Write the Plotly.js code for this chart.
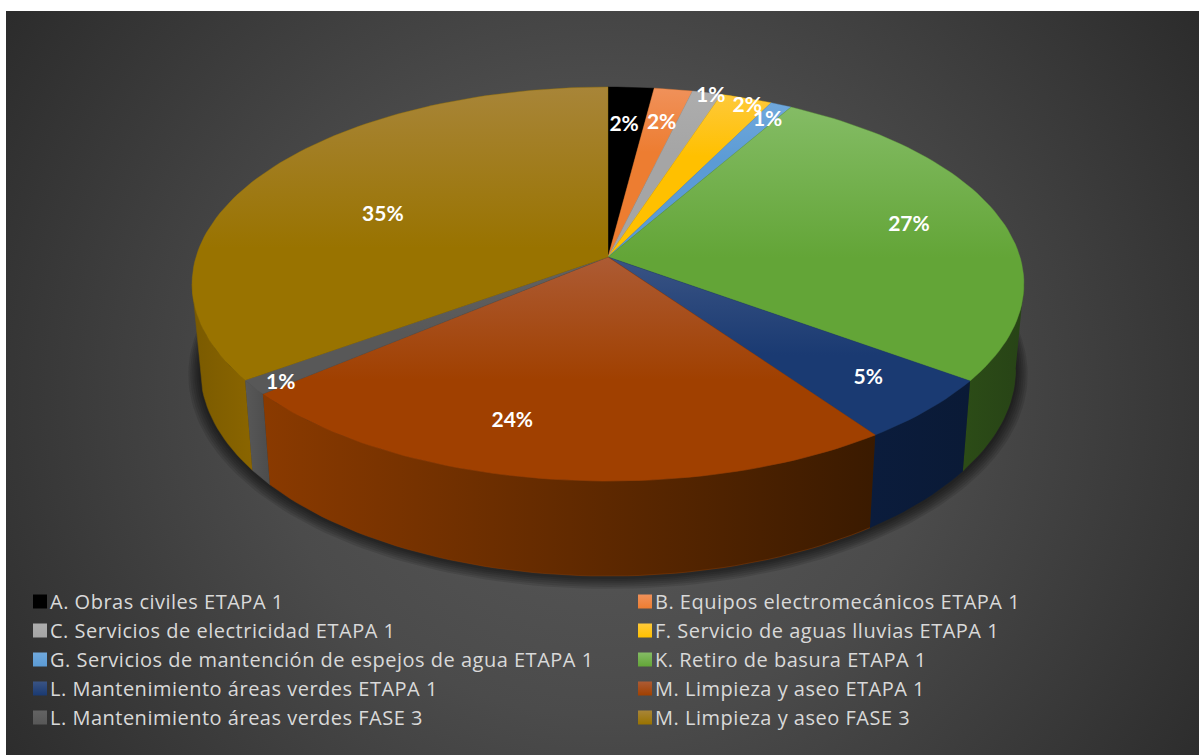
<!DOCTYPE html>
<html><head><meta charset="utf-8">
<script src="https://cdn.plot.ly/plotly-3.0.1.min.js"></script>
<style>
html,body{margin:0;padding:0;background:#fff;width:1199px;height:755px;overflow:hidden}
#panel{position:absolute;left:6px;top:11px;width:1193px;height:744px;background:radial-gradient(ellipse 62% 95% at 50% 52%,#5a5a5a 0%,#4b4b4b 45%,#2a2a2a 100%)}
#chart{position:absolute;left:0;top:0;width:1199px;height:755px;overflow:hidden}
.legendtext{letter-spacing:.5px}
</style></head><body>
<div id="panel"></div><div id="chart"></div>
<script>
// ---------- data ----------
const categories = [
  "A. Obras civiles ETAPA 1","B. Equipos electromecánicos ETAPA 1",
  "C. Servicios de electricidad ETAPA 1","F. Servicio de aguas lluvias ETAPA 1",
  "G. Servicios de mantención de espejos de agua ETAPA 1","K. Retiro de basura ETAPA 1",
  "L. Mantenimiento áreas verdes ETAPA 1","M. Limpieza y aseo ETAPA 1",
  "L. Mantenimiento áreas verdes FASE 3","M. Limpieza y aseo FASE 3"];
const shares = [2.03,1.7,1.3,2.3,0.95,26.75,5.2,23.6,1.2,34.97];
const percentLabels = ["2%","2%","1%","2%","1%","27%","5%","24%","1%","35%"];

// ---------- style ----------
const baseColors  = ["#000000","#ed7d31","#a5a5a5","#ffc000","#5b9bd5","#63a537","#1a3a72","#a04000","#585858","#997300"];
const lightColors = ["#000000","#f0915a","#adadad","#fec93a","#70a8dc","#84bc65","#3a5484","#ad5b34","#636363","#a88538"];
const gradientEnd = [0.6,0.62,0.62,0.62,0.62,0.45,0.45,0.45,0.45,0.45];
const wallLeft  = ["#000","#000","#000","#000","#000","#2c4c17","#0b1c3c","#8a3a00","#585858","#7a5a00"];
const wallRight = ["#000","#000","#000","#000","#000","#274316","#0a1a36","#3a1a00","#4c4c4c","#8a6500"];
const labelRadius = [0.76,0.785,0.988,0.959,0.90,0.768,0.816,0.784,0.94,0.608];
const labelShift  = [-0.4,0.2,0.8,1.0,0.4,-1.1,-1,8.1,-1,-5];   // degrees from the slice's middle
const labelDrop = 2;
const FONT = "Lato, Carlito, Calibri, sans-serif";
const LEGEND_FONT = "'Open Sans', sans-serif";
const W=1240, H=755;   // layout is a little wider than the window so two legend columns fit

// ---------- projection of the tilted disc ----------
const cx=608, cy=257, A=412, B=193.3, K=0.137;
const rad=d=>d*Math.PI/180;
function topPt(theta,r=1){const X=r*Math.sin(rad(theta)),Y=-r*Math.cos(rad(theta)),w=1-K*Y;return [cx+A*X/w,cy+B*Y/w];}
function bottomPt(theta){const [x,y]=topPt(theta);return [cx+0.98*(x-cx),y+90+0.05*(y-380)];}
function arc(fn,a,b){const n=Math.max(2,Math.ceil(Math.abs(b-a)/1.5)),p=[];for(let i=0;i<=n;i++)p.push(fn(a+(b-a)*i/n));return p;}

const total=shares.reduce((s,v)=>s+v,0);
let acc=0; const bounds=shares.map(v=>{const s=acc/total*360;acc+=v;return [s,acc/total*360];});

const traces=[];
// soft shadow around the base
const outline=arc(bottomPt,0,360);
[12,10,8,6,4,2].forEach(g=>{
  traces.push({type:"scatter",mode:"lines",hoverinfo:"skip",showlegend:false,fill:"toself",
    fillcolor:"rgba(0,0,0,0.11)",line:{width:0},
    x:outline.map(p=>cx+(p[0]-cx)*(1+g/405)),
    y:outline.map(p=>p[1]+(p[1]-250)*g/330+1)});
});
// outer walls, between the two tangent lines of the disc outline
const wallFrom=97.9, wallTo=262.1;
bounds.forEach(([s,e],i)=>{
  const a=Math.max(s,wallFrom),b=Math.min(e,wallTo);
  if(b<=a) return;
  const t=arc(topPt,a,b),u=arc(bottomPt,b,a),p=t.concat(u);
  const sw=[wallLeft[i],wallRight[i]];
  traces.push({type:"scatter",mode:"lines",hoverinfo:"skip",showlegend:false,fill:"toself",
    line:{width:0.5,color:sw[0]},
    fillgradient:{type:"horizontal",colorscale:[[0,sw[0]],[1,sw[1]]]},
    x:p.map(q=>q[0]),y:p.map(q=>q[1])});
});
// top faces
bounds.forEach(([s,e],i)=>{
  const p=[[cx,cy]].concat(arc(topPt,s,e)); p.push([cx,cy]);
  traces.push({type:"scatter",mode:"lines",hoverinfo:"skip",showlegend:false,fill:"toself",
    line:{width:0.4,color:baseColors[i]},
    fillgradient:{type:"vertical",colorscale:[[0,baseColors[i]],[gradientEnd[i],baseColors[i]],[1,lightColors[i]]]},
    x:p.map(q=>q[0]),y:p.map(q=>q[1])});
});
// percentage labels
const lp=bounds.map(([s,e],i)=>topPt((s+e)/2+labelShift[i],labelRadius[i]));
traces.push({type:"scatter",mode:"text",hoverinfo:"skip",showlegend:false,cliponaxis:false,
  x:lp.map(q=>q[0]),y:lp.map(q=>q[1]+labelDrop),text:percentLabels,textposition:"middle center",
  textfont:{family:FONT,size:21,color:"#ffffff",weight:700}});
// legend entries
categories.forEach((c,i)=>traces.push({type:"scatter",mode:"markers",x:[null],y:[null],name:c,
  marker:{symbol:"square",size:14,color:lightColors[i],gradient:{type:"vertical",color:baseColors[i]}}}));

Plotly.newPlot("chart",traces,{
  width:W,height:H,margin:{l:0,r:0,t:0,b:0,autoexpand:false},
  paper_bgcolor:"rgba(0,0,0,0)",plot_bgcolor:"rgba(0,0,0,0)",
  xaxis:{range:[0,W],visible:false,fixedrange:true},
  yaxis:{range:[H,0],visible:false,fixedrange:true},
  legend:{orientation:"h",x:10/W,xanchor:"left",y:1-582/H,yanchor:"top",
    entrywidth:560,entrywidthmode:"pixels",itemclick:false,itemdoubleclick:false,
    bgcolor:"rgba(0,0,0,0)",traceorder:"normal",font:{family:LEGEND_FONT,size:20,color:"#d9d9d9"}},
  showlegend:true
},{displayModeBar:false,staticPlot:true}).then(gd=>{
  // tighten the gap between each legend swatch and its text
  gd.querySelectorAll(".legend .legendsymbols").forEach(n=>n.setAttribute("transform","translate(10,0)"));
});
</script></body></html>
